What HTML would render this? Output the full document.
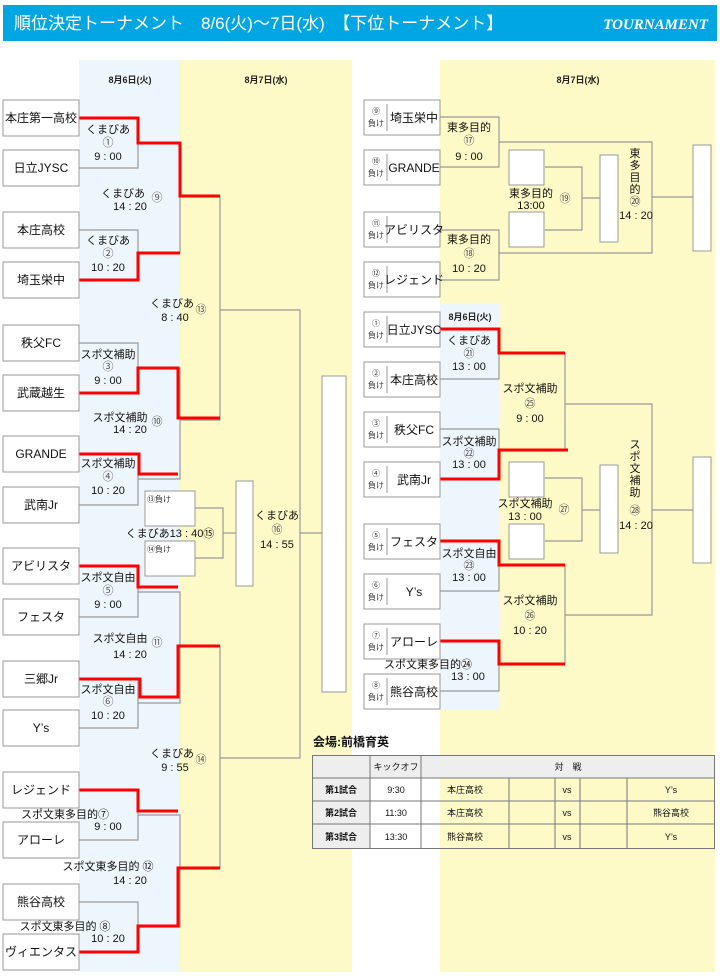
<!DOCTYPE html>
<html><head><meta charset="utf-8"><style>
body{margin:0;background:#fff;}
svg{display:block;font-family:"Liberation Sans","Noto Sans CJK JP",sans-serif;}
</style></head><body>
<svg width="720" height="978" viewBox="0 0 720 978" xmlns="http://www.w3.org/2000/svg">
<rect x="0" y="0" width="720" height="978" fill="#fff"/>
<!-- header -->
<rect x="3" y="5" width="714" height="36" fill="#00a6e2"/>
<text x="14" y="29" font-size="17" fill="#fff">順位決定トーナメント　8/6(火)〜7日(水)　【下位トーナメント】</text>
<text x="708" y="29" font-size="15" fill="#fff" font-style="italic" font-weight="bold" text-anchor="end" font-family="Liberation Serif,serif">TOURNAMENT</text>
<!-- backgrounds -->
<rect x="79" y="60" width="101" height="912" fill="#eef6fd"/>
<rect x="180" y="60" width="172" height="912" fill="#fefac8"/>
<rect x="440" y="60" width="275" height="912" fill="#fefac8"/>
<rect x="440" y="303" width="59" height="407" fill="#eef6fd"/>
<g font-size="9" font-weight="bold" text-anchor="middle" fill="#222">
<text x="130" y="83">8月6日(火)</text>
<text x="266" y="83">8月7日(水)</text>
<text x="578" y="83">8月7日(水)</text>
<text x="470" y="320">8月6日(火)</text>
</g>
<!-- gray lines -->
<g stroke="#999" stroke-width="1.2" fill="none">
<path d="M79 118H138V168H79"/><path d="M79 230H138V280H79"/>
<path d="M79 343H138V393H79"/><path d="M79 454H138V505H79"/>
<path d="M79 566H138V617H79"/><path d="M79 679H138V728H79"/>
<path d="M79 790H138V840H79"/><path d="M79 902H138V952H79"/>
<path d="M138 143H180V253H138"/><path d="M138 368H180V479H138"/>
<path d="M138 592H180V703H138"/><path d="M138 815H180V927H138"/>
<path d="M180 196H220V420H180"/><path d="M180 646H220V868H180"/>
<path d="M220 310H300V758H220"/><path d="M300 533H322"/>
<path d="M195 508H223V558H195"/><path d="M223 533H236"/>
<!-- right top -->
<path d="M440 117H499V167H440"/><path d="M440 230H499V280H440"/>
<path d="M499 142H652V253H499"/><path d="M652 197H693"/>
<path d="M545 167H582V230H545"/><path d="M582 198H600"/>
<!-- right bottom -->
<path d="M440 329H499V379H440"/><path d="M440 429H499V479H440"/>
<path d="M440 541H499V591H440"/><path d="M440 641H499V691H440"/>
<path d="M499 353H565V450H499"/><path d="M499 565H565V664H499"/>
<path d="M565 404H652V615H565"/><path d="M652 510H693"/>
<path d="M545 478H582V541H545"/><path d="M582 510H600"/>
</g>
<!-- red lines -->
<g stroke="#f00" stroke-width="3" fill="none" stroke-linejoin="miter">
<path d="M79 118H138V143H180V196H220"/>
<path d="M79 280H138V253H180"/>
<path d="M79 393H138V368H178V418H220"/>
<path d="M79 454H139V474H178"/>
<path d="M79 566H138V587H178"/>
<path d="M79 679H140V697H178V646H220"/>
<path d="M79 790H138V811H178"/>
<path d="M79 952H138V926H178V868H220"/>
<path d="M440 329H499V353H565"/>
<path d="M440 479H499V450H568"/>
<path d="M440 541H499V565H565"/>
<path d="M440 641H499V664H565"/>
</g>
<!-- boxes -->
<g fill="#fff" stroke="#999" stroke-width="1">
<rect x="3" y="100" width="76" height="36"/><rect x="3" y="150" width="76" height="36"/>
<rect x="3" y="212" width="76" height="36"/><rect x="3" y="262" width="76" height="36"/>
<rect x="3" y="325" width="76" height="36"/><rect x="3" y="375" width="76" height="36"/>
<rect x="3" y="436" width="76" height="36"/><rect x="3" y="487" width="76" height="36"/>
<rect x="3" y="548" width="76" height="36"/><rect x="3" y="599" width="76" height="36"/>
<rect x="3" y="661" width="76" height="36"/><rect x="3" y="710" width="76" height="36"/>
<rect x="3" y="772" width="76" height="36"/><rect x="3" y="822" width="76" height="36"/>
<rect x="3" y="884" width="76" height="36"/><rect x="3" y="934" width="76" height="36"/>
<rect x="145" y="491" width="50" height="35"/><rect x="145" y="541" width="50" height="35"/>
<rect x="236" y="481" width="17" height="105"/><rect x="322" y="376" width="24" height="316"/>
<rect x="364" y="100" width="76" height="35"/><rect x="364" y="150" width="76" height="35"/>
<rect x="364" y="212" width="76" height="35"/><rect x="364" y="262" width="76" height="35"/>
<rect x="509" y="150" width="35" height="35"/><rect x="509" y="212" width="35" height="35"/>
<rect x="600" y="155" width="18" height="87"/><rect x="693" y="145" width="18" height="106"/>
<rect x="364" y="312" width="76" height="35"/><rect x="364" y="362" width="76" height="35"/>
<rect x="364" y="412" width="76" height="35"/><rect x="364" y="462" width="76" height="35"/>
<rect x="364" y="524" width="76" height="35"/><rect x="364" y="574" width="76" height="35"/>
<rect x="364" y="624" width="76" height="35"/><rect x="364" y="674" width="76" height="35"/>
<rect x="509" y="462" width="35" height="35"/><rect x="509" y="524" width="35" height="35"/>
<rect x="600" y="465" width="18" height="88"/><rect x="693" y="457" width="18" height="106"/>
</g>
<g stroke="#999" stroke-width="1">
<path d="M387 104V131M387 154V181M387 216V243M387 266V293M387 316V343M387 366V393M387 416V443M387 466V493M387 528V555M387 578V605M387 628V655M387 678V705"/>
</g>
<!-- team names left -->
<g font-size="12" text-anchor="middle" fill="#111">
<text x="41" y="122">本庄第一高校</text><text x="41" y="172">日立JYSC</text>
<text x="41" y="234">本庄高校</text><text x="41" y="284">埼玉栄中</text>
<text x="41" y="347">秩父FC</text><text x="41" y="397">武蔵越生</text>
<text x="41" y="458">GRANDE</text><text x="41" y="509">武南Jr</text>
<text x="41" y="570">アビリスタ</text><text x="41" y="621">フェスタ</text>
<text x="41" y="683">三郷Jr</text><text x="41" y="732">Y’s</text>
<text x="41" y="794">レジェンド</text><text x="41" y="844">アローレ</text>
<text x="41" y="906">熊谷高校</text><text x="41" y="956">ヴィエンタス</text>
<!-- right names -->
<text x="414" y="122">埼玉栄中</text><text x="414" y="172">GRANDE</text>
<text x="414" y="234">アビリスタ</text><text x="414" y="284">レジェンド</text>
<text x="414" y="334">日立JYSC</text><text x="414" y="384">本庄高校</text>
<text x="414" y="434">秩父FC</text><text x="414" y="484">武南Jr</text>
<text x="414" y="546">フェスタ</text><text x="414" y="596">Y’s</text>
<text x="414" y="646">アローレ</text><text x="414" y="696">熊谷高校</text>
</g>
<g font-size="8" text-anchor="middle" fill="#333">
<text x="376" y="114">⑨</text><text x="376" y="126">負け</text>
<text x="376" y="164">⑩</text><text x="376" y="176">負け</text>
<text x="376" y="226">⑪</text><text x="376" y="238">負け</text>
<text x="376" y="276">⑫</text><text x="376" y="288">負け</text>
<text x="376" y="326">①</text><text x="376" y="338">負け</text>
<text x="376" y="376">②</text><text x="376" y="388">負け</text>
<text x="376" y="426">③</text><text x="376" y="438">負け</text>
<text x="376" y="476">④</text><text x="376" y="488">負け</text>
<text x="376" y="538">⑤</text><text x="376" y="550">負け</text>
<text x="376" y="588">⑥</text><text x="376" y="600">負け</text>
<text x="376" y="638">⑦</text><text x="376" y="650">負け</text>
<text x="376" y="688">⑧</text><text x="376" y="700">負け</text>
<text x="147" y="502" text-anchor="start">⑬負け</text>
<text x="147" y="552" text-anchor="start">⑭負け</text>
</g>
<!-- match labels -->
<g font-size="11" text-anchor="middle" fill="#111">
<text x="108" y="133">くまびあ</text><text x="108" y="146" fill="#555">①</text><text x="108" y="160">9 : 00</text>
<text x="123" y="197">くまびあ</text><text x="130" y="210">14 : 20</text><text x="157" y="201" fill="#555">⑨</text>
<text x="108" y="244">くまびあ</text><text x="108" y="257" fill="#555">②</text><text x="108" y="271">10 : 20</text>
<text x="172" y="307">くまびあ</text><text x="175" y="321">8 : 40</text><text x="201" y="313" fill="#555">⑬</text>
<text x="108" y="358">スポ文補助</text><text x="108" y="370" fill="#555">③</text><text x="108" y="384">9 : 00</text>
<text x="120" y="421">スポ文補助</text><text x="130" y="433">14 : 20</text><text x="157" y="425" fill="#555">⑩</text>
<text x="108" y="467">スポ文補助</text><text x="108" y="480" fill="#555">④</text><text x="108" y="494">10 : 20</text>
<text x="170" y="537">くまびあ13 : 40⑮</text>
<text x="277" y="519">くまびあ</text><text x="277" y="533" fill="#555">⑯</text><text x="277" y="548">14 : 55</text>
<text x="108" y="581">スポ文自由</text><text x="108" y="594" fill="#555">⑤</text><text x="108" y="608">9 : 00</text>
<text x="120" y="642">スポ文自由</text><text x="130" y="658">14 : 20</text><text x="157" y="646" fill="#555">⑪</text>
<text x="108" y="693">スポ文自由</text><text x="108" y="705" fill="#555">⑥</text><text x="108" y="719">10 : 20</text>
<text x="172" y="757">くまびあ</text><text x="175" y="771">9 : 55</text><text x="201" y="763" fill="#555">⑭</text>
<text x="65" y="818">スポ文東多目的⑦</text><text x="108" y="830">9 : 00</text>
<text x="108" y="870">スポ文東多目的 ⑫</text><text x="130" y="884">14 : 20</text>
<text x="65" y="930">スポ文東多目的 ⑧</text><text x="108" y="942">10 : 20</text>
<!-- right -->
<text x="469" y="131">東多目的</text><text x="469" y="144" fill="#555">⑰</text><text x="469" y="160">9 : 00</text>
<text x="469" y="243">東多目的</text><text x="469" y="257" fill="#555">⑱</text><text x="469" y="272">10 : 20</text>
<text x="531" y="197">東多目的</text><text x="531" y="209">13:00</text><text x="565" y="202" fill="#555">⑲</text>
<text x="635" y="157">東</text><text x="635" y="169">多</text><text x="635" y="181">目</text><text x="635" y="193">的</text>
<text x="635" y="205" fill="#555">⑳</text><text x="636" y="219">14 : 20</text>
<text x="469" y="344">くまびあ</text><text x="469" y="357" fill="#555">㉑</text><text x="469" y="370">13 : 00</text>
<text x="530" y="392">スポ文補助</text><text x="530" y="407" fill="#555">㉕</text><text x="530" y="422">9 : 00</text>
<text x="469" y="445">スポ文補助</text><text x="469" y="457" fill="#555">㉒</text><text x="469" y="468">13 : 00</text>
<text x="525" y="507">スポ文補助</text><text x="525" y="520">13 : 00</text><text x="564" y="513" fill="#555">㉗</text>
<text x="635" y="448">ス</text><text x="635" y="460">ポ</text><text x="635" y="472">文</text><text x="635" y="484">補</text><text x="635" y="496">助</text>
<text x="635" y="514" fill="#555">㉘</text><text x="636" y="529">14 : 20</text>
<text x="469" y="557">スポ文自由</text><text x="469" y="569" fill="#555">㉓</text><text x="469" y="581">13 : 00</text>
<text x="530" y="604">スポ文補助</text><text x="530" y="619" fill="#555">㉖</text><text x="530" y="634">10 : 20</text>
<text x="428" y="668">スポ文東多目的㉔</text><text x="468" y="680">13 : 00</text>
</g>
<!-- table -->
<text x="313" y="746" font-size="12" font-weight="bold" fill="#111">会場:前橋育英</text>
<rect x="312" y="755" width="403" height="23" fill="#eee"/>
<rect x="312" y="778" width="58" height="71" fill="#eee"/>
<g stroke="#777" stroke-width="1" fill="none">
<rect x="312.5" y="755.5" width="402" height="93"/>
<path d="M312 778H715M312 801H715M312 824H715"/>
<path d="M370 755V849M421 755V849M509 778V849M555 778V849M580 778V849M627 778V849"/>
</g>
<g font-size="9" text-anchor="middle" fill="#111">
<text x="396" y="770">キックオフ</text><text x="568" y="770">対　戦</text>
<text x="341" y="793" font-weight="bold">第1試合</text><text x="396" y="793">9:30</text><text x="465" y="793">本庄高校</text><text x="567" y="793">vs</text><text x="671" y="793">Y’s</text>
<text x="341" y="816" font-weight="bold">第2試合</text><text x="396" y="816">11:30</text><text x="465" y="816">本庄高校</text><text x="567" y="816">vs</text><text x="671" y="816">熊谷高校</text>
<text x="341" y="840" font-weight="bold">第3試合</text><text x="396" y="840">13:30</text><text x="465" y="840">熊谷高校</text><text x="567" y="840">vs</text><text x="671" y="840">Y’s</text>
</g>
</svg>
</body></html>
